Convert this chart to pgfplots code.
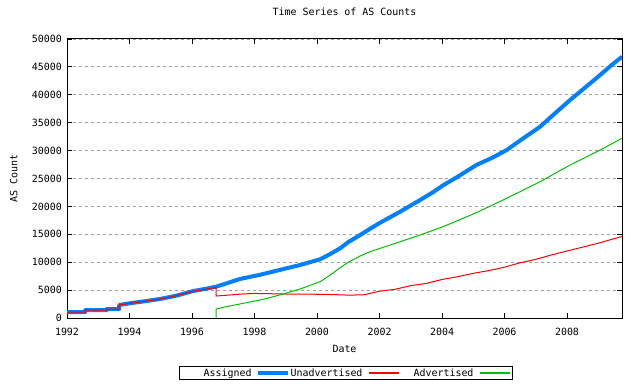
\documentclass[border=0pt]{standalone}
\usepackage{fontspec}
\setmainfont{DejaVu Sans Mono}
\usepackage{pgfplots}
\pgfplotsset{compat=1.18}
\definecolor{gpblue}{HTML}{0080FF}
\definecolor{gpred}{HTML}{FF0000}
\definecolor{gpgreen}{HTML}{00C000}
\definecolor{gpgrid}{HTML}{A0A0A0}
\begin{document}
\fontsize{10}{12}\selectfont
\begin{tikzpicture}
\path[use as bounding box] (0,0) rectangle (640bp,384bp);
\begin{axis}[
  at={(67bp,66bp)}, anchor=south west,
  scale only axis, width=555bp, height=279bp,
  xmin=1992, xmax=2009.76, ymin=0, ymax=50000,
  xtick={1992,1994,...,2008},
  ytick={0,5000,...,50000},
  scaled y ticks=false,
  /pgf/number format/1000 sep={},
  /pgf/number format/assume math mode=true,
  tick pos=both, tick align=inside,
  major tick length=5bp,
  every tick/.style={black, line width=0.8bp},
  axis line style={line width=1bp},
  ymajorgrids,
  major grid style={gpgrid, line width=0.8bp, dash pattern=on 3bp off 3bp},
  font=\fontsize{10}{12}\selectfont,
  yticklabel style={inner sep=0pt, xshift=-5bp},
  xticklabel style={inner sep=0pt, yshift=-9.5bp},
  title={Time Series of AS Counts},
  title style={at={([yshift=17.5bp]axis description cs:0.5,1)}, anchor=base, inner sep=0pt},
  xlabel={Date},
  xlabel style={at={([yshift=-34.5bp]axis description cs:0.5,0)}, anchor=base, inner sep=0pt},
  ylabel={AS Count},
  ylabel style={at={([xshift=-49.5bp]axis description cs:0,0.5)}, anchor=base, inner sep=0pt, rotate=0},
  legend plot pos=right,
  legend columns=3,
  legend style={at={([xshift=1.5bp]axis description cs:0.5,0)}, yshift=-55bp, anchor=center,
    draw=black, line width=1bp, inner xsep=0pt, inner ysep=2bp,
    column sep=0pt, nodes={inner sep=0pt},
    font=\fontsize{10}{12}\selectfont},
]
\addplot[gpblue, line width=4bp, line join=round,
  legend image code/.code={\path[draw=none] (0bp,0bp) -- (39bp,0bp); \draw[gpblue, line width=4bp] (6bp,0bp) -- (36bp,0bp);}] coordinates {
(1992.0,1050) (1992.58,1050) (1992.58,1400) (1993.27,1400) (1993.27,1600)
(1993.67,1600) (1993.67,2330) (1994.0,2630) (1994.55,3050) (1994.97,3400)
(1995.5,4000) (1996.04,4840) (1996.47,5260) (1996.77,5610) (1997.1,6200)
(1997.54,7000) (1998.18,7750) (1998.8,8600) (1999.46,9500) (2000.1,10520)
(2000.4,11400) (2000.74,12490) (2001.0,13600) (2001.38,14870) (2001.7,16000)
(2002.02,17080) (2002.66,19050) (2003.3,21150) (2003.7,22500)
(2004.04,23800) (2004.5,25300) (2005.1,27420) (2005.6,28700) (2006.07,30100)
(2006.6,32200) (2007.14,34280) (2007.6,36600) (2008.1,39070) (2008.6,41400)
(2009.06,43550) (2009.4,45200) (2009.76,46830)
};
\addlegendentry{\makebox[72bp][r]{Assigned}}
\addplot[gpred, line width=1bp,
  legend image code/.code={\path[draw=none] (0bp,0bp) -- (39bp,0bp); \draw[gpred, line width=1.2bp] (6bp,0bp) -- (36bp,0bp);}] coordinates {
(1992.0,1050) (1992.58,1050) (1992.58,1400) (1993.27,1400) (1993.27,1600)
(1993.67,1600) (1993.67,2330) (1994.0,2600) (1994.55,3050) (1994.97,3400)
(1995.5,4000) (1996.04,4800) (1996.47,5200) (1996.77,5450) (1996.77,3940)
(1997.2,4120) (1997.6,4300) (1998.0,4400) (1998.5,4350) (1999.0,4300)
(1999.5,4300) (2000.0,4250) (2000.5,4200) (2001.0,4100) (2001.5,4150)
(2002.0,4800) (2002.5,5140) (2003.0,5800) (2003.5,6200) (2004.0,6900)
(2004.5,7400) (2005.0,8000) (2005.5,8500) (2006.0,9100) (2006.5,9900)
(2007.0,10500) (2007.5,11300) (2008.0,12000) (2008.5,12700) (2009.0,13400)
(2009.5,14200) (2009.76,14600)
};
\addlegendentry{\makebox[72bp][r]{Unadvertised}}
\addplot[gpgreen, line width=1bp,
  legend image code/.code={\path[draw=none] (0bp,0bp) -- (39bp,0bp); \draw[gpgreen, line width=1.2bp] (6bp,0bp) -- (36bp,0bp);}] coordinates {
(1996.77,0) (1996.77,1610) (1997.1,2030) (1997.64,2630) (1998.18,3230)
(1998.4,3520) (1998.92,4300) (1999.46,5200) (2000.1,6510) (2000.4,7600)
(2000.74,9000) (2001.0,10000) (2001.38,11100) (2001.7,11890) (2002.34,13080)
(2003.3,14870) (2004.04,16370) (2005.1,18870) (2006.07,21450) (2007.14,24430)
(2008.1,27420) (2009.06,30100) (2009.76,32200)
};
\addlegendentry{\makebox[72bp][r]{Advertised}}
\end{axis}
\end{tikzpicture}
\end{document}
